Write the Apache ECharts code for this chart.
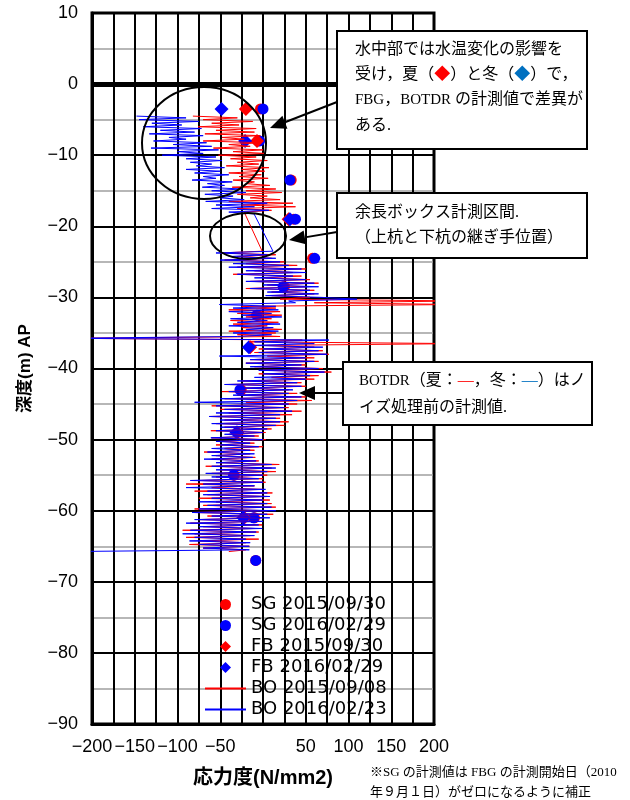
<!DOCTYPE html>
<html>
<head>
<meta charset="utf-8">
<script src="https://cdn.jsdelivr.net/npm/echarts@6.0.0/dist/echarts.min.js"></script>
<style>
html, body { margin: 0; padding: 0; background: #fff; }
#main { width: 630px; height: 800px; }
</style>
</head>
<body>
<div id="main"></div>
<script>
// SG / FBG 点データ（深度 m, 応力度 N/mm2）
var sgDepth = [-3.5, -8, -13.5, -19, -24.5, -28.5, -32.5, -43, -55, -61, -67];
var sg2015 = [-3, -6, 33, 36, 58, 25, -6, -25.5, -33.5, -10, -8.5];
var sg2016 = [0, -4, 31.5, 38, 60.5, 23.5, -7.5, -27, -34.5, -11, -8.5];
var fbDepth = [-3.5, -8, -19, -37, -49, -61];
var fb2015 = [-20, -7, 30, -15, -30, -22];
var fb2016 = [-48.5, -21, 31.5, -16.5, -31, -23];

// BOTDR: 0.25m 間隔, 上部区間と下部区間（余長ボックス区間は欠測）
var boStep = 0.25;
var boUpperStart = -4.5;
var boLowerStart = -23.5;
var bo2015Upper = [
    -82, -30, -70, -12, -60, -28, -76, -8,
    -55, -10, -68, -3, -48, -22, -70, -2,
    -40, -15, -58, 0, -35, 3, -52, -8,
    -38, 5, -30, -5, -43, 7, -25, 2,
    -40, -2, -28, 6, -35, -10, -20, 8,
    -36, 15, -20, 22, -30, 5, -15, 20,
    -40, 35, -25, 38, -30, 10, -22, -20
];
var bo2016Upper = [
    -148, -90, -145, -75, -130, -95, -140, -72,
    -120, -80, -133, -70, -110, -90, -128, -66,
    -105, -60, -131, -52, -100, -70, -118, -55,
    -90, -48, -85, -60, -78, -45, -90, -50,
    -80, -40, -70, -55, -83, -36, -65, -45,
    -71, -25, -60, -20, -68, -35, -50, -22,
    -67, 5, -55, -10, -60, 7, -40, -10.5
];
var bo2015Lower = [
    -1, -50, 15, -30, 10, -45, 25, -20,
    40, -30, 50, -10, 35, -35, 45, 0,
    55, -15, 65, 5, 50, -20, 60, 10,
    60, 10, 55, 20, 230, 60, 230, -25,
    15, -40, 20, -30, 22, -20, 10, -38,
    18, -35, 5, -25, 22, -40, 15, -30,
    20, -230, 46, -16, 230, 0, 60, -5,
    70, -10, 77, 5, 60, -15, 65, -20,
    50, -10, 70, 0, 80, -5, 65, 10,
    60, -25, 45, -40, 50, -20, 30, -48,
    40, -30, 50, -45, 57, -20, 40, -60,
    30, -50, 45, -40, 34, -63, 20, -45,
    30, -55, 25, -45, 10, -61, 3, -40,
    -5, -60, 3, -50, -10, -55, 0, -45,
    -10, -69, -15, -55, -9, -60, -5, -50,
    19, -67, 10, -50, 15, -60, 5, -55,
    0, -75, 3, -90, -10, -60, 0, -80,
    11, -65, 5, -75, 8, -55, 10, -70,
    15, -80, 5, -83, 12, -65, 0, -75,
    -5, -85, -1, -70, -10, -94, -5, -80,
    -15, -90, -5, -75, -20, -86, -16, -70,
    -20, -40
];
var bo2016Lower = [
    11.7, -55, 5, -40, 15, -50, 20, -35,
    30, -40, 45, -20, 50, -30, 35, -10,
    50, -20, 60, 0, 65, -15, 55, 5,
    65, 3, 69, 110, 30, 38, -51, 15,
    -35, 18, -40, 10, -25, 22, -38, 5,
    -30, 20, -40, 12, -20, 18, -35, 10,
    -30, -230, 77, -10, 60, -13, 70, 0,
    65, -5, 75, -51, 50, -15, 60, -20,
    45, -15, 65, -5, 72, 0, 55, -10,
    50, -30, 40, -45, 45, -25, 35, -40,
    30, -35, 45, -50, 40, -80, 30, -55,
    25, -45, 34, -55, 20, -63, 15, -50,
    20, -60, 15, -50, 5, -55, 0, -45,
    -10, -61, 0, -55, -15, -50, -5, -60,
    -15, -65, -10, -60, -12, -69, -8, -55,
    10, -60, 15, -55, 5, -67, 0, -60,
    -5, -85, 0, -70, -10, -90, 3, -65,
    5, -70, 8, -60, 0, -75, 5, -65,
    10, -75, 15, -83, 5, -60, 8, -80,
    0, -90, -5, -75, -1, -85, -8, -94,
    -10, -80, -20, -86, -15, -75, -16, -70,
    -16, -230
];

var DIAMOND = 'path://M5,0L10,5L5,10L0,5Z';
var legendItems = [
    {name: 'SG 2015/09/30'},
    {name: 'SG 2016/02/29'},
    {name: 'FB 2015/09/30', icon: DIAMOND},
    {name: 'FB 2016/02/29', icon: DIAMOND},
    {name: 'BO 2015/09/08'},
    {name: 'BO 2016/02/23'}
];

function pairs(xs, ys) {
    return xs.map(function (v, i) { return [v, ys[i]]; });
}
function boData(upper, lower) {
    var d = [];
    upper.forEach(function (v, i) { d.push([v, boUpperStart - i * boStep]); });
    lower.forEach(function (v, i) { d.push([v, boLowerStart - i * boStep]); });
    return d;
}
function minus(v) {
    return v < 0 ? '\u2212' + (-v) : String(v);
}

var SERIF = '"Liberation Serif", "Noto Sans CJK JP"';
var SANS = '"Liberation Sans", "Noto Sans CJK JP"';

// 注記の矢印（線＋三角）
function arrow(x1, y1, x2, y2) {
    var dx = x2 - x1, dy = y2 - y1, len = Math.sqrt(dx * dx + dy * dy);
    var ux = dx / len, uy = dy / len, hl = 16, hw = 7;
    var bx = x2 - ux * hl, by = y2 - uy * hl;
    return [
        {type: 'line', z: 100, shape: {x1: x1, y1: y1, x2: bx, y2: by}, style: {stroke: '#000', lineWidth: 2}},
        {type: 'polygon', z: 100, shape: {points: [[x2, y2], [bx - uy * hw, by + ux * hw], [bx + uy * hw, by - ux * hw]]}, style: {fill: '#000'}}
    ];
}
function box(x, y, w, h) {
    return {type: 'rect', z: 100, shape: {x: x, y: y, width: w, height: h}, style: {fill: '#fff', stroke: '#000', lineWidth: 2}};
}
function note(x, y, text, size, latinSize) {
    size = size || 16;
    latinSize = latinSize || 15;
    return {
        type: 'text', z: 101, x: x, y: y,
        style: {
            text: text, font: size + 'px ' + SERIF, fill: '#000', verticalAlign: 'middle',
            rich: {
                r: {fill: '#ff0000'},
                b: {fill: '#0070c0'},
                l: {font: latinSize + 'px "Liberation Serif"'}
            }
        }
    };
}

var graphics = [
    {type: 'ellipse', z: 100, shape: {cx: 204, cy: 143, rx: 62, ry: 56}, style: {fill: 'none', stroke: '#000', lineWidth: 2}},
    {type: 'ellipse', z: 100, shape: {cx: 248, cy: 236, rx: 38, ry: 23}, style: {fill: 'none', stroke: '#000', lineWidth: 2}},
    box(337, 31, 250, 118),
    box(337, 193, 250, 65),
    box(343, 362, 249, 63),
    note(355, 50, '水中部では水温変化の影響を'),
    note(355, 75, '受け，夏（{r|◆}）と冬（{b|◆}）で，'),
    note(355, 100, '{l|FBG}，{l|BOTDR} の計測値で差異が'),
    note(355, 126, 'ある.'),
    note(355, 213, '余長ボックス計測区間.'),
    note(355, 238, '（上杭と下杭の継ぎ手位置）'),
    note(359, 381, '{l|BOTDR}（夏：{r|—}，冬：{b|—}）はノ'),
    note(359, 408, 'イズ処理前の計測値.'),
    note(370, 773, '※{l|SG} の計測値は {l|FBG} の計測開始日（{l|2010}', 13, 13),
    note(370, 793, '年９月１日）がゼロになるように補正', 13, 13)
].concat(arrow(337, 102, 270, 128), arrow(337, 232, 289, 240), arrow(342, 393, 299, 393));

var myChart = echarts.init(document.getElementById('main'));

var option = {
    animation: false,
    backgroundColor: '#fff',
    grid: {
        left: 92, right: 196, top: 13, bottom: 76,
        show: true, borderColor: '#000', borderWidth: 3,
        containLabel: false, outerBoundsMode: 'none'
    },
    legend: {
        data: legendItems,
        orient: 'vertical',
        left: 204, top: 594, padding: 0,
        itemWidth: 41, itemHeight: 11, itemGap: 0,
        symbolKeepAspect: true,
        textStyle: {color: '#000', fontSize: 18, lineHeight: 21, fontFamily: '"DejaVu Sans"'},
        backgroundColor: 'transparent'
    },
    xAxis: {
        type: 'value', min: -200, max: 200, interval: 25,
        name: '応力度(N/mm2)', nameLocation: 'middle', nameGap: 44,
        nameTextStyle: {color: '#000', fontSize: 20, fontWeight: 'bold', fontFamily: SANS},
        axisLine: {show: true, onZero: false, lineStyle: {color: '#000', width: 3}},
        axisTick: {show: false},
        axisLabel: {
            color: '#000', fontSize: 18, fontFamily: SANS, margin: 14,
            formatter: function (v) { return (v % 50 === 0 && v !== 0) ? minus(v) : ''; }
        },
        splitLine: {show: true, lineStyle: {color: '#000', width: 2}}
    },
    yAxis: {
        type: 'value', min: -90, max: 10, interval: 10,
        name: '深度(m) AP', nameLocation: 'middle', nameGap: 58, nameRotate: 90,
        nameTextStyle: {color: '#000', fontSize: 17, fontWeight: 'bold', fontFamily: SANS},
        axisLine: {show: true, onZero: false, lineStyle: {color: '#000', width: 3}},
        axisTick: {show: false},
        axisLabel: {color: '#000', fontSize: 18, fontFamily: SANS, margin: 14, formatter: minus},
        splitLine: {show: true, lineStyle: {color: '#000', width: 2}},
        minorTick: {show: false, splitNumber: 2},
        minorSplitLine: {show: true, lineStyle: {color: '#a0a0a0', width: 1.5}}
    },
    series: [
        {
            name: 'BO 2015/09/08', type: 'line', data: boData(bo2015Upper, bo2015Lower),
            symbol: 'none', showSymbol: false, clip: true,
            lineStyle: {color: '#ff0000', width: 1}, itemStyle: {color: 'rgba(0,0,0,0)'},
            // 0m ライン（太線）
            markLine: {
                silent: true, symbol: 'none', label: {show: false},
                lineStyle: {color: '#000', width: 5, type: 'solid'},
                data: [{yAxis: 0}]
            }
        },
        {
            name: 'BO 2016/02/23', type: 'line', data: boData(bo2016Upper, bo2016Lower),
            symbol: 'none', showSymbol: false, clip: true,
            lineStyle: {color: '#0000ff', width: 1}, itemStyle: {color: 'rgba(0,0,0,0)'}
        },
        {
            name: 'SG 2015/09/30', type: 'scatter', data: pairs(sg2015, sgDepth),
            symbol: 'circle', symbolSize: 11, itemStyle: {color: '#ff0000', opacity: 1}
        },
        {
            name: 'SG 2016/02/29', type: 'scatter', data: pairs(sg2016, sgDepth),
            symbol: 'circle', symbolSize: 11, itemStyle: {color: '#0000ff', opacity: 1}
        },
        {
            name: 'FB 2015/09/30', type: 'scatter', data: pairs(fb2015, fbDepth),
            symbol: 'diamond', symbolSize: 14, itemStyle: {color: '#ff0000', opacity: 1}
        },
        {
            name: 'FB 2016/02/29', type: 'scatter', data: pairs(fb2016, fbDepth),
            symbol: 'diamond', symbolSize: 14, itemStyle: {color: '#0000ff', opacity: 1}
        }
    ],
    graphic: {elements: graphics}
};

myChart.setOption(option);
</script>
</body>
</html>
